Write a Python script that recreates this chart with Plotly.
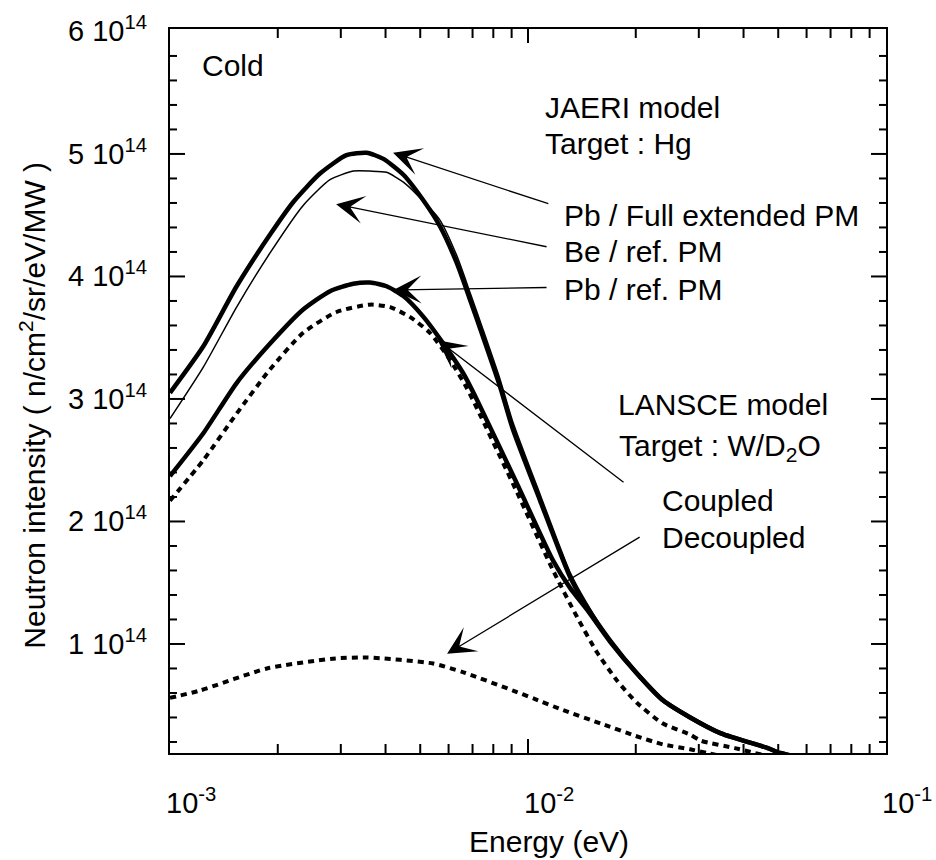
import numpy as np
import plotly.graph_objects as go

# ---------------- data (Energy in eV, intensity in units of 1e14 n/cm2/sr/eV/MW) ----------------
pb_full_E = [1.000e-3, 1.239e-3, 1.535e-3, 1.901e-3, 2.213e-3, 2.624e-3, 3.112e-3, 3.540e-3,
             3.945e-3, 4.487e-3, 5.105e-3, 5.675e-3, 6.324e-3, 6.887e-3, 7.482e-3, 8.356e-3,
             9.078e-3, 1.081e-2, 1.309e-2, 1.462e-2, 1.694e-2, 2.014e-2, 2.382e-2, 2.838e-2,
             3.459e-2, 4.677e-2, 5.058e-2, 5.623e-2]
pb_full_I = [3.05, 3.43, 3.92, 4.34, 4.61, 4.84, 4.99, 5.01,
             4.96, 4.83, 4.62, 4.41, 4.11, 3.81, 3.51, 3.10,
             2.75, 2.17, 1.55, 1.30, 1.03, 0.76, 0.54, 0.40,
             0.27, 0.15, 0.11, 0.08]

be_ref_E = [1.000e-3, 1.239e-3, 1.535e-3, 1.901e-3, 2.355e-3, 2.799e-3, 3.251e-3, 3.622e-3,
            4.027e-3, 4.487e-3, 4.887e-3, 5.675e-3, 6.324e-3, 6.887e-3, 7.482e-3, 8.356e-3,
            9.078e-3, 1.081e-2, 1.309e-2, 1.462e-2, 1.694e-2, 2.014e-2, 2.382e-2, 2.838e-2,
            3.459e-2, 4.677e-2, 5.058e-2, 5.623e-2]
be_ref_I = [2.84, 3.26, 3.75, 4.19, 4.58, 4.79, 4.86, 4.86,
            4.85, 4.77, 4.67, 4.46, 4.17, 3.87, 3.57, 3.16,
            2.81, 2.22, 1.59, 1.33, 1.04, 0.77, 0.55, 0.40,
            0.27, 0.15, 0.11, 0.08]

pb_ref_E = [1.000e-3, 1.239e-3, 1.535e-3, 1.901e-3, 2.355e-3, 2.799e-3, 3.251e-3, 3.622e-3,
            4.027e-3, 4.487e-3, 5.105e-3, 5.808e-3, 6.592e-3, 7.211e-3, 9.311e-3, 1.175e-2,
            1.309e-2, 1.462e-2, 1.694e-2, 2.014e-2, 2.382e-2, 2.838e-2, 3.459e-2, 4.677e-2,
            5.058e-2, 5.623e-2]
pb_ref_I = [2.37, 2.72, 3.13, 3.45, 3.73, 3.88, 3.94, 3.95,
            3.92, 3.84, 3.67, 3.45, 3.21, 2.99, 2.31, 1.68,
            1.46, 1.28, 1.02, 0.76, 0.54, 0.40, 0.27, 0.15,
            0.11, 0.08]

coupled_E = [1.000e-3, 1.239e-3, 1.535e-3, 1.901e-3, 2.355e-3, 2.921e-3, 3.622e-3, 4.117e-3,
             4.677e-3, 5.321e-3, 6.053e-3, 6.745e-3, 7.211e-3, 9.311e-3, 1.175e-2, 1.371e-2,
             1.560e-2, 1.774e-2, 2.014e-2, 2.382e-2, 2.838e-2, 3.041e-2, 3.784e-2, 4.305e-2,
             4.786e-2]
coupled_I = [2.17, 2.50, 2.88, 3.24, 3.54, 3.71, 3.77, 3.75,
             3.67, 3.54, 3.32, 3.09, 2.92, 2.24, 1.60, 1.22,
             0.93, 0.70, 0.52, 0.35, 0.26, 0.21, 0.15, 0.11,
             0.08]

decoupled_E = [1.000e-3, 1.213e-3, 1.866e-3, 2.851e-3, 3.548e-3, 5.433e-3, 6.577e-3, 9.078e-3,
               1.047e-2, 1.253e-2, 1.600e-2, 1.995e-2, 2.382e-2, 2.838e-2, 3.162e-2,
               3.548e-2]
decoupled_I = [0.56, 0.62, 0.80, 0.88, 0.89, 0.84, 0.77, 0.62,
               0.55, 0.46, 0.35, 0.25, 0.18, 0.14, 0.11,
               0.08]

SCALE = 1e14
y_tick_vals = [1, 2, 3, 4, 5, 6]
y_tick_text = ["1 10<sup>14</sup>", "2 10<sup>14</sup>", "3 10<sup>14</sup>",
               "4 10<sup>14</sup>", "5 10<sup>14</sup>", "6 10<sup>14</sup>"]
y_minor_vals = [0.2, 0.4, 0.6, 0.8, 1.2, 1.4, 1.6, 1.8, 2.2, 2.4, 2.6, 2.8, 3.2, 3.4, 3.6, 3.8,
                4.2, 4.4, 4.6, 4.8, 5.2, 5.4, 5.6, 5.8]
x_tick_vals = [1e-3, 1e-2, 1e-1]
x_tick_text = ["10<sup>-3</sup>", "10<sup>-2</sup>", "10<sup>-1</sup>"]
x_minor_vals = [k * 1e-3 for k in range(2, 10)] + [k * 1e-2 for k in range(2, 10)]

FONT = "Liberation Sans, Arial, Helvetica, sans-serif"
W, H = 936, 860
ML, MR, MT, MB = 170, 50, 29, 107
PW, PH = W - ML - MR, H - MT - MB
X_RANGE = [-3, -1]                 # log10(eV)
Y_RANGE = [0.11, 6.02]             # units of 1e14

fig = go.Figure()

def add_curve(E, I, width, dash, name):
    fig.add_trace(go.Scatter(
        x=E, y=np.array(I) * SCALE, mode="lines", name=name,
        line=dict(color="black", width=width, dash=dash, shape="spline", smoothing=0.6),
        showlegend=False, hoverinfo="skip"))

add_curve(decoupled_E, decoupled_I, 4, "6px,5px", "Decoupled")
add_curve(coupled_E, coupled_I, 4, "6px,5px", "Coupled")
add_curve(pb_ref_E, pb_ref_I, 4.5, "solid", "Pb / ref. PM")
add_curve(pb_full_E, pb_full_I, 4.5, "solid", "Pb / Full extended PM")
add_curve(be_ref_E, be_ref_I, 1.5, "solid", "Be / ref. PM")

# ---------------- inside tick marks on all four sides, drawn on the axes' scales ----------------
y_per_px = (Y_RANGE[1] - Y_RANGE[0]) / PH        # intensity units per pixel
dec_per_px = (X_RANGE[1] - X_RANGE[0]) / PW      # decades per pixel

def tick_trace(xs, ys):
    fig.add_trace(go.Scatter(x=xs, y=ys, mode="lines", line=dict(color="black", width=2),
                             showlegend=False, hoverinfo="skip", cliponaxis=False))

def x_ticks(vals, length_px):
    xs, ys = [], []
    lo, hi = Y_RANGE[0] * SCALE, Y_RANGE[1] * SCALE
    d = length_px * y_per_px * SCALE
    for v in vals:
        xs += [v, v, None, v, v, None]
        ys += [lo, lo + d, None, hi, hi - d, None]
    tick_trace(xs, ys)

def y_ticks(vals, length_px):
    xs, ys = [], []
    left, right = 10 ** X_RANGE[0], 10 ** X_RANGE[1]
    f = 10 ** (length_px * dec_per_px)
    for v in vals:
        xs += [left, left * f, None, right, right / f, None]
        ys += [v * SCALE, v * SCALE, None, v * SCALE, v * SCALE, None]
    tick_trace(xs, ys)

x_ticks(x_tick_vals[1:2], 14)
x_ticks(x_minor_vals, 9)
y_ticks(y_tick_vals[:-1], 15)
y_ticks(y_minor_vals, 7)

# ---------------- arrows (tip -> curve, tail -> label), data coordinates ----------------
arrows = [
    # (tip logE, tip I, tail logE, tail I)
    (-2.377, 5.01, -1.939, 4.59),
    (-2.536, 4.59, -1.944, 4.24),
    (-2.376, 3.89, -1.944, 3.91),
    (-2.252, 3.48, -1.729, 2.31),
    (-2.226, 0.92, -1.684, 1.88),
]
for tx, ty, ax, ay in arrows:
    fig.add_annotation(x=tx, y=ty * SCALE, ax=ax, ay=ay * SCALE,
                       xref="x", yref="y", axref="x", ayref="y",
                       text="", showarrow=True, arrowhead=3, arrowsize=3.6,
                       arrowwidth=1.3, arrowcolor="black", standoff=0)

# ---------------- tick labels (placed on the axes' own scales) ----------------
for v, t in zip(x_tick_vals, x_tick_text):
    fig.add_annotation(x=np.log10(v), y=-0.066, xref="x", yref="paper", text=t,
                       showarrow=False, xanchor="center", yanchor="middle", xshift=21,
                       font=dict(family=FONT, size=29, color="black"))
for v, t in zip(y_tick_vals, y_tick_text):
    fig.add_annotation(x=0, y=v * SCALE, xref="paper", yref="y", text=t,
                       showarrow=False, xanchor="right", yanchor="middle", xshift=-21, yshift=2,
                       font=dict(family=FONT, size=29, color="black"))

# ---------------- text labels ----------------
labels = [
    ("Cold", 0.042, 0.949),
    ("JAERI model", 0.521, 0.892),
    ("Target : Hg", 0.521, 0.842),
    ("Pb / Full extended PM", 0.547, 0.743),
    ("Be / ref. PM", 0.547, 0.692),
    ("Pb / ref. PM", 0.547, 0.640),
    ("LANSCE model", 0.623, 0.481),
    ("Target : W/D<sub>2</sub>O", 0.624, 0.422),
    ("Coupled", 0.685, 0.349),
    ("Decoupled", 0.685, 0.298),
]
for txt, px, py in labels:
    fig.add_annotation(x=px, y=py, xref="paper", yref="paper", text=txt,
                       showarrow=False, xanchor="left", yanchor="middle",
                       font=dict(family=FONT, size=30, color="black"))

# axis titles
fig.add_annotation(x=0.53, y=-0.122, xref="paper", yref="paper", text="Energy (eV)",
                   showarrow=False, xanchor="center", yanchor="middle",
                   font=dict(family=FONT, size=30, color="black"))
fig.add_annotation(x=-0.191, y=0.48, xref="paper", yref="paper",
                   text="Neutron intensity ( n/cm<sup>2</sup>/sr/eV/MW )", textangle=-90,
                   showarrow=False, xanchor="center", yanchor="middle",
                   font=dict(family=FONT, size=30, color="black"))

fig.update_layout(
    width=W, height=H,
    margin=dict(l=ML, r=MR, t=MT, b=MB),
    paper_bgcolor="white", plot_bgcolor="white",
    font=dict(family=FONT, size=29, color="black"),
    showlegend=False,
    xaxis=dict(
        type="log", range=X_RANGE,
        showticklabels=False, ticks="",
        showline=True, linecolor="black", linewidth=2, mirror=True,
        showgrid=False, zeroline=False,
    ),
    yaxis=dict(
        range=[Y_RANGE[0] * SCALE, Y_RANGE[1] * SCALE],
        showticklabels=False, ticks="",
        showline=True, linecolor="black", linewidth=2, mirror=True,
        showgrid=False, zeroline=False,
    ),
)

fig.write_html("out.html")
